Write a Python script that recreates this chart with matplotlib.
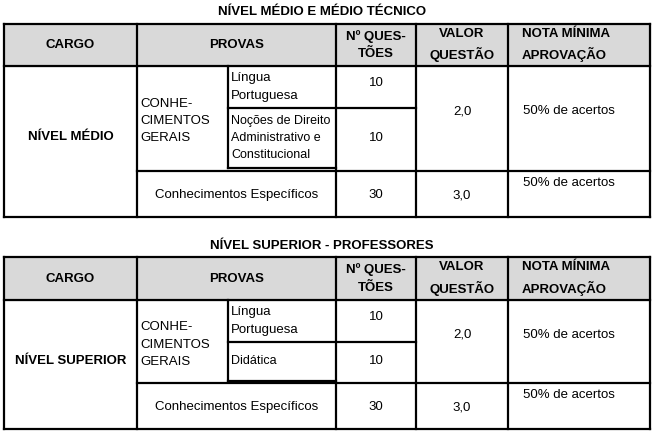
import matplotlib
matplotlib.use("Agg")
import matplotlib.pyplot as plt
from matplotlib.patches import Rectangle

plt.rcParams['font.family'] = ['Liberation Sans', 'DejaVu Sans']

titles = ["NÍVEL MÉDIO E MÉDIO TÉCNICO", "NÍVEL SUPERIOR - PROFESSORES"]
headers = ["CARGO", "PROVAS", "Nº QUES-\nTÕES", "VALOR\nQUESTÃO", "NOTA MÍNIMA\nAPROVAÇÃO"]
cargos = ["NÍVEL MÉDIO", "NÍVEL SUPERIOR"]
grupo = "CONHE-\nCIMENTOS\nGERAIS"
disciplinas = [["Língua\nPortuguesa", "Noções de Direito\nAdministrativo e\nConstitucional"],
               ["Língua\nPortuguesa", "Didática"]]
questoes_gerais = [10, 10]
valor_gerais = "2,0"
especificos = "Conhecimentos Específicos"
questoes_esp = 30
valor_esp = "3,0"
nota = "50% de acertos"

fig = plt.figure(figsize=(6.54, 4.33), dpi=100)
ax = fig.add_axes([0, 0, 1, 1])
ax.set_xlim(0, 654); ax.set_ylim(433, 0); ax.axis('off')

X = [4, 137, 228, 336, 416, 508, 650]
layouts = [dict(title=12, top=24, hb=66, r1=108, r2=168, sp=171, bot=217),
           dict(title=246, top=257, hb=300, r1=342, r2=381, sp=383, bot=429)]
lw = 1.6
fs = 9.5

def hl(y, x0, x1): ax.plot([x0, x1], [y, y], color='black', lw=lw, solid_capstyle='projecting')
def vl(x, y0, y1): ax.plot([x, x], [y0, y1], color='black', lw=lw, solid_capstyle='projecting')
def t(x, y, s, **k):
    k.setdefault('ha', 'center'); k.setdefault('va', 'center')
    k.setdefault('fontsize', fs)
    ax.text(x, y, s, linespacing=1.6, **k)

for i, L in enumerate(layouts):
    t(322, L['title'], titles[i], fontweight='bold')
    ax.add_patch(Rectangle((X[0], L['top']), X[-1]-X[0], L['hb']-L['top'], color='#d9d9d9', zorder=0))
    hl(L['top'], X[0], X[-1]); hl(L['hb'], X[0], X[-1]); hl(L['bot'], X[0], X[-1])
    for x in [X[0], X[1], X[3], X[4], X[5], X[6]]:
        vl(x, L['top'], L['bot'])
    vl(X[2], L['hb'], L['r2'])
    hl(L['r1'], X[2], X[4])
    hl(L['r2'], X[2], X[3])
    hl(L['sp'], X[1], X[-1])
    hy = (L['top'] + L['hb']) / 2
    hx = [(X[0]+X[1])/2, (X[1]+X[3])/2, (X[3]+X[4])/2, (X[4]+X[5])/2, X[5]+14]
    for j, h in enumerate(headers):
        t(hx[j], hy, h, fontweight='bold', ha='left' if j == 4 else 'center')
    t((X[0]+X[1])/2, (L['hb']+L['bot'])/2 - 4, cargos[i], fontweight='bold')
    t(X[1]+3, (L['hb']+L['r2'])/2 + 4, grupo, ha='left')
    t(X[2]+3, (L['hb']+L['r1'])/2, disciplinas[i][0], ha='left')
    t(X[2]+3, (L['r1']+L['r2'])/2, disciplinas[i][1], ha='left', fontsize=9)
    t((X[3]+X[4])/2, (L['hb']+L['r1'])/2 - 4, str(questoes_gerais[0]))
    t((X[3]+X[4])/2, (L['r1']+L['r2'])/2, str(questoes_gerais[1]))
    t((X[4]+X[5])/2, (L['hb']+L['r2'])/2 - 6, valor_gerais)
    t((X[5]+X[6])/2 - 10, (L['hb']+L['r2'])/2 - 6, nota)
    sy = (L['sp']+L['bot'])/2 + 1
    t((X[1]+X[3])/2, sy, especificos)
    t((X[3]+X[4])/2, sy, str(questoes_esp))
    t((X[4]+X[5])/2, sy, valor_esp)
    t((X[5]+X[6])/2 - 10, L['sp'] + 12, nota)

fig.savefig("out.png", dpi=100)
